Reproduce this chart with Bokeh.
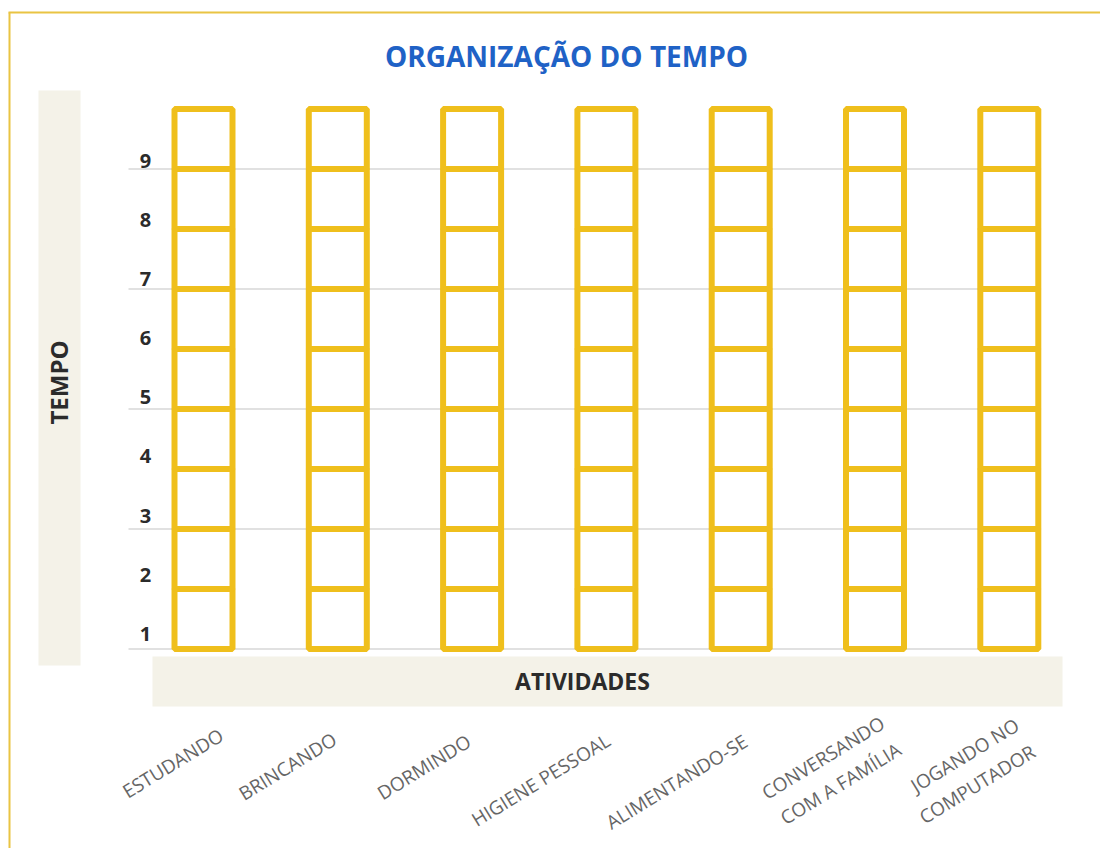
import math
from bokeh.plotting import figure
from bokeh.models import Range1d, ColumnDataSource
from bokeh.core.properties import value
from bokeh.embed import file_html
from bokeh.resources import INLINE

# ---- data -----------------------------------------------------------
title_text = "ORGANIZAÇÃO DO TEMPO"
x_title = "ATIVIDADES"
y_title = "TEMPO"
activities = ["ESTUDANDO", "BRINCANDO", "DORMINDO", "HIGIENE PESSOAL",
              "ALIMENTANDO-SE", "CONVERSANDO\nCOM A FAMÍLIA", "JOGANDO NO\nCOMPUTADOR"]
cells_per_column = 9
y_tick_labels = ["1", "2", "3", "4", "5", "6", "7", "8", "9"]
grid_levels = [0, 2, 4, 6, 8]

# ---- layout (screen pixel helpers) -------------------------------------
W, H = 1100, 848
X0, PX_X = 203.0, 134.3     # px of column 0 centre, px per column
Y0, PX_Y = 648.5, 60.0      # px of baseline, px per unit
def px2x(X): return (X - X0) / PX_X
def px2y(Y): return (Y0 - Y) / PX_Y

GOLD = "#efbf1c"
DARK = "#2b2b2b"
BAND = "#f4f2e8"
FONT = value("Open Sans")

p = figure(width=W, height=H, output_backend="svg", toolbar_location=None,
           x_range=Range1d(px2x(0), px2x(W)),
           y_range=Range1d(px2y(H), px2y(0)),
           x_axis_location=None, y_axis_location=None, min_border=0)
p.grid.visible = False
p.outline_line_color = None
p.background_fill_color = "white"

# page frame
p.segment(x0=[px2x(8)], y0=[px2y(12)], x1=[px2x(W)], y1=[px2y(12)],
          line_color="#e9c443", line_width=2)
p.segment(x0=[px2x(9)], y0=[px2y(12)], x1=[px2x(9)], y1=[px2y(H)],
          line_color="#e9c443", line_width=2)

# shaded bands
p.quad(left=[px2x(38)], right=[px2x(80)], top=[px2y(90)], bottom=[px2y(665)],
       fill_color=BAND, line_color=None)
p.quad(left=[px2x(152)], right=[px2x(1062)], top=[px2y(656)], bottom=[px2y(706)],
       fill_color=BAND, line_color=None)

# grid lines
n = len(grid_levels)
p.segment(x0=[px2x(128)] * n, y0=grid_levels, x1=[px2x(1040)] * n, y1=grid_levels,
          line_color="#c4c4c4", line_width=1.2)

# empty cells
cx, cy = [], []
for i, _ in enumerate(activities):
    for j in range(cells_per_column):
        cx.append(i)
        cy.append(j + 0.5)
p.rect(x=cx, y=cy, width=58 / PX_X, height=1, fill_color=None,
       line_color=GOLD, line_width=6)

# y tick labels
ty = [(k + 1) * 0.985 - 0.73 for k in range(len(y_tick_labels))]
p.text(x=[px2x(145)] * len(ty), y=ty, text=y_tick_labels, text_font=FONT,
       text_font_style="bold", text_font_size="20px", text_color=DARK,
       text_align="center", text_baseline="middle")

# titles
p.text(x=[px2x(566)], y=[px2y(55.5)], text=[title_text], text_font=FONT,
       text_font_style="bold", text_font_size="28px", text_color="#1f62c6",
       text_align="center", text_baseline="middle")
p.text(x=[px2x(582)], y=[px2y(680)], text=[x_title], text_font=FONT,
       text_font_style="bold", text_font_size="23px", text_color=DARK,
       text_align="center", text_baseline="middle")
p.text(x=[px2x(58)], y=[px2y(382)], text=[y_title], text_font=FONT,
       text_font_style="bold", text_font_size="24px", text_color=DARK,
       angle=math.pi / 2, text_align="center", text_baseline="middle")

# category labels (rotated)
lab_dx = [18, -3, -3, 2, 5, 16, 16]
lab_Y = [733, 737, 739, 738, 739, 734, 736]
src = ColumnDataSource(dict(
    x=[i + dx / PX_X for i, dx in enumerate(lab_dx)],
    y=[px2y(Y) for Y in lab_Y],
    t=activities))
p.text(x="x", y="y", text="t", source=src, text_font=FONT,
       text_font_size="19px", text_color="#666666", angle=0.55,
       text_align="right", text_baseline="middle", text_line_height=1.2)

open("out.html", "w").write(file_html(p, INLINE))
